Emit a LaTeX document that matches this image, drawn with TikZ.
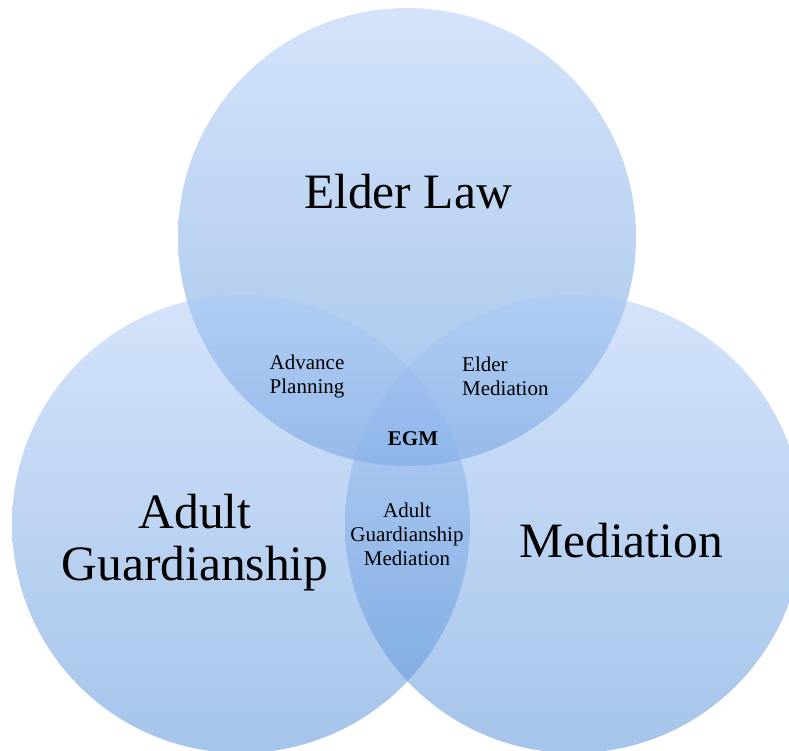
\documentclass[tikz,border=0pt]{standalone}
\usepackage{fontspec}
\setmainfont{Liberation Serif}
\definecolor{cTop}{RGB}{170,200,246}
\definecolor{cBot}{RGB}{76,138,214}
\begin{document}
\begin{tikzpicture}[x=1pt,y=-1pt,
  venn/.style={top color=cTop, bottom color=cBot, fill opacity=0.5, draw=none},
  biglabel/.style={font=\fontsize{49.5}{52}\selectfont, inner sep=0pt, align=center, anchor=base},
  smalllabel/.style={font=\fontsize{21}{24}\selectfont, inner sep=0pt, anchor=base}]
\useasboundingbox (0,0) rectangle (789,750);
\shade[venn] (407,237) circle[radius=229pt];
\shade[venn] (241,524) circle[radius=229pt];
\shade[venn] (574,524) circle[radius=229pt];
\node[biglabel] (elderlaw) at (408,208) {Elder Law};
\node[biglabel] (adultg) at (195,580) {Adult\\Guardianship};
\node[biglabel] (mediation) at (621,557) {Mediation};
\node[smalllabel, align=center] (advance) at (307,393) {Advance\\Planning};
\node[smalllabel, align=left, anchor=base west] (eldermed) at (462,395) {Elder\\Mediation};
\node[smalllabel, font=\fontsize{21}{24}\selectfont\bfseries] (egm) at (413,445) {EGM};
\node[smalllabel, align=center] (agm) at (407,565) {Adult\\Guardianship\\Mediation};
\end{tikzpicture}
\end{document}
